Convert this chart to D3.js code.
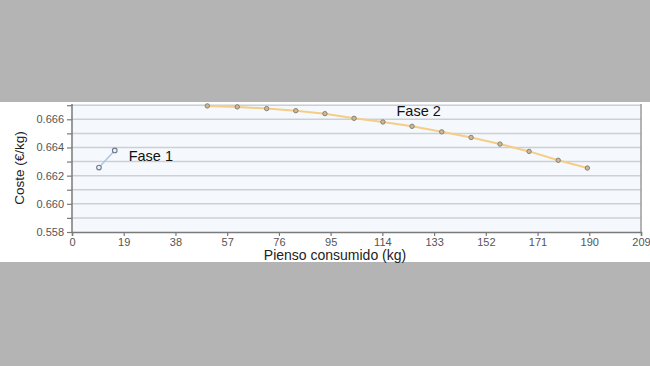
<!DOCTYPE html>
<html><head><meta charset="utf-8">
<script src="https://cdn.jsdelivr.net/npm/d3@7"></script>
<style>
html,body{margin:0;padding:0;background:#b4b4b4;}
svg{display:block;}
</style></head>
<body>
<svg id="c" width="650" height="366"></svg>
<script>
const xTicks = [0,19,38,57,76,95,114,133,152,171,190,209];
const yTickValues = [0.658,0.659,0.660,0.661,0.662,0.663,0.664,0.665,0.666,0.667];
const yTickLabels = {"0.658":"0.558","0.66":"0.660","0.662":"0.662","0.664":"0.664","0.666":"0.666"};
const fase1X = [9.9, 15.7];
const fase1Y = [0.66257, 0.66379];
const fase2X = [49.7,60.7,71.5,82.2,92.9,103.6,114.2,124.9,135.8,146.6,157.2,167.9,178.6,189.3];
const fase2Y = [0.66695,0.66688,0.66676,0.66661,0.6664,0.66607,0.66581,0.6655,0.66511,0.66471,0.66424,0.66372,0.66309,0.66254];
const labels = [{text:"Fase 1", x:20.8, y:0.6637},{text:"Fase 2", x:119.2, y:0.66685}];

const svg = d3.select("#c");
const L=72, R=641, T=104, B=232;
svg.append("rect").attr("x",0).attr("y",102).attr("width",650).attr("height",160).attr("fill","#ffffff");
svg.append("rect").attr("x",L).attr("y",T).attr("width",R-L).attr("height",B-T).attr("fill","#f5f9fd");

const x = d3.scaleLinear().domain([0,209]).range([L,R]);
const y = d3.scaleLinear().domain([0.658,0.667]).range([B,105.2]);

// grid
svg.append("g").selectAll("line").data(yTickValues.slice(1)).join("line")
  .attr("x1",L).attr("x2",R).attr("y1",d=>y(d)).attr("y2",d=>y(d))
  .attr("stroke","#cdd0d3").attr("stroke-width",1.5);

// right border
svg.append("line").attr("x1",R).attr("x2",R).attr("y1",T).attr("y2",B).attr("stroke","#9a9a9a").attr("stroke-width",1.5);

// axes
const xAxis = d3.axisBottom(x).tickValues(xTicks).tickSize(4).tickPadding(2).tickFormat(d3.format("d"));
const gx = svg.append("g").attr("transform",`translate(0,${B})`).call(xAxis);
const yAxis = d3.axisLeft(y).tickValues(yTickValues).tickSize(5).tickPadding(3)
  .tickFormat(d=>yTickLabels[String(+d.toFixed(3))]||"");
const gy = svg.append("g").attr("transform",`translate(${L},0)`).call(yAxis);
[gx,gy].forEach(g=>{
  g.select(".domain").attr("stroke","#7a7a7a").attr("stroke-width",1.5);
  g.selectAll(".tick line").attr("stroke","#7a7a7a").attr("stroke-width",1.2);
  g.selectAll("text").attr("fill","#555").style("font-family","Liberation Sans, Arial, sans-serif").style("font-size","11px");
});
gy.select(".domain").attr("d",`M-0,${T}V${B}`);

// lines
const line = d3.line().x(d=>x(d[0])).y(d=>y(d[1]));
const s1 = fase1X.map((v,i)=>[v,fase1Y[i]]);
const s2 = fase2X.map((v,i)=>[v,fase2Y[i]]);
svg.append("path").datum(s1).attr("d",line).attr("fill","none").attr("stroke","#a9c6e6").attr("stroke-width",1.5);
svg.append("path").datum(s2).attr("d",line).attr("fill","none").attr("stroke","#f5cd86").attr("stroke-width",2);
svg.append("g").selectAll("circle").data(s1).join("circle")
  .attr("cx",d=>x(d[0])).attr("cy",d=>y(d[1])).attr("r",2.3)
  .attr("fill","#eef2f6").attr("stroke","#6f7b88").attr("stroke-width",1.1);
svg.append("g").selectAll("circle").data(s2).join("circle")
  .attr("cx",d=>x(d[0])).attr("cy",d=>y(d[1])).attr("r",2.2)
  .attr("fill","#c9b99c").attr("stroke","#8a8170").attr("stroke-width",1);

// labels
svg.append("g").selectAll("text").data(labels).join("text")
  .attr("x",d=>x(d.x)).attr("y",d=>y(d.y)+9)
  .text(d=>d.text).attr("fill","#111")
  .style("font-family","Liberation Sans, Arial, sans-serif").style("font-size","14.5px");

// titles
svg.append("text").attr("transform","translate(24,168) rotate(-90)").attr("text-anchor","middle")
  .text("Coste (€/kg)").attr("fill","#222")
  .style("font-family","Liberation Sans, Arial, sans-serif").style("font-size","13.5px");
svg.append("text").attr("x",335).attr("y",260).attr("text-anchor","middle")
  .text("Pienso consumido (kg)").attr("fill","#222")
  .style("font-family","Liberation Sans, Arial, sans-serif").style("font-size","14px");
</script>
</body></html>
